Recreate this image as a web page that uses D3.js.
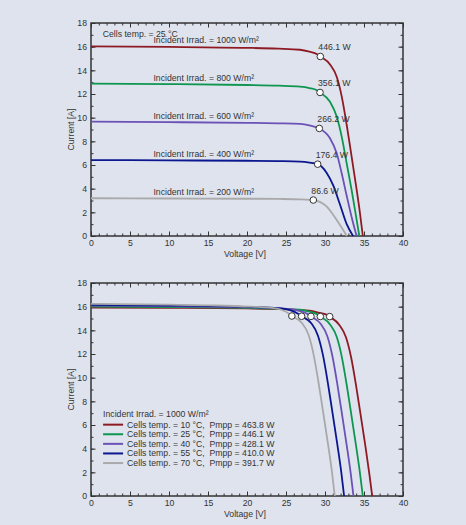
<!DOCTYPE html>
<html>
<head>
<meta charset="utf-8">
<script src="https://cdn.jsdelivr.net/npm/d3@7"></script>
<style>
  html, body { margin: 0; padding: 0; background: #dfe3ee; }
  svg { display: block; font-family: "Liberation Sans", Arial, sans-serif; }
</style>
</head>
<body>
<div id="chart"></div>
<script>
// ---- data ----
const irradLevels = [1000, 800, 600, 400, 200];
const irradPmpp = [446.1, 356.1, 266.2, 176.4, 86.6];
const irradMpp = [[29.4, 15.17], [29.36, 12.13], [29.27, 9.09], [29.06, 6.07], [28.5, 3.04]];
const irradCurves = [
    [[0, 16.02], [10, 15.98], [20, 15.9], [24, 15.83], [26.8, 15.74], [28, 15.58], [29, 15.36], [29.4, 15.17], [30.64, 14.5], [31.5, 13.45], [32.14, 11.8], [32.78, 9.4], [33.3, 7.2], [33.97, 4.3], [34.49, 1.9], [34.85, 0]],
    [[0, 12.88], [10, 12.84], [20, 12.76], [24, 12.7], [26.8, 12.62], [28, 12.5], [29, 12.3], [29.36, 12.13], [30.64, 11.35], [31.5, 10.09], [32.14, 8.4], [32.78, 6.14], [33.42, 3.85], [34.06, 1.35], [34.4, 0]],
    [[0, 9.66], [10, 9.62], [20, 9.56], [24, 9.52], [26.8, 9.47], [28, 9.35], [29.27, 9.09], [30.64, 8.26], [31.5, 6.99], [32.14, 5.3], [32.78, 3.4], [33.45, 1.5], [34.05, 0]],
    [[0, 6.42], [10, 6.39], [20, 6.36], [24, 6.33], [26.8, 6.28], [28, 6.2], [29.06, 6.07], [30.2, 5.35], [31.07, 4.25], [31.9, 2.7], [32.78, 1.0], [33.6, 0]],
    [[0, 3.19], [10, 3.17], [20, 3.15], [24, 3.13], [26.8, 3.1], [28.5, 3.04], [30.2, 2.5], [31.5, 1.35], [32.8, 0]]
];

const tempLevels = [10, 25, 40, 55, 70];
const tempPmpp = [463.8, 446.1, 428.1, 410.0, 391.7];
const tempMpp = [[30.6, 15.16], [29.4, 15.17], [28.2, 15.18], [27.0, 15.19], [25.75, 15.21]];
const tempCurves = [
    [[0, 15.92], [10, 15.9], [20, 15.85], [25.2, 15.77], [28, 15.66], [29.2, 15.5], [30.2, 15.33], [30.6, 15.16], [31.84, 14.45], [32.7, 13.4], [33.34, 11.75], [33.98, 9.35], [34.5, 7.15], [35.17, 4.25], [35.69, 1.85], [36.05, 0]],
    [[0, 16.0], [10, 15.97], [20, 15.9], [24, 15.83], [26.8, 15.74], [28, 15.58], [29, 15.36], [29.4, 15.17], [30.64, 14.5], [31.5, 13.45], [32.14, 11.8], [32.78, 9.4], [33.3, 7.2], [33.97, 4.3], [34.49, 1.9], [34.85, 0]],
    [[0, 16.08], [10, 16.04], [20, 15.95], [22.8, 15.9], [25.6, 15.8], [26.8, 15.63], [27.8, 15.37], [28.2, 15.18], [29.44, 14.55], [30.3, 13.5], [30.94, 11.85], [31.58, 9.45], [32.1, 7.25], [32.77, 4.35], [33.29, 1.95], [33.65, 0]],
    [[0, 16.16], [10, 16.1], [18, 16.02], [21.6, 15.95], [24.4, 15.85], [25.6, 15.68], [26.6, 15.38], [27.0, 15.19], [28.24, 14.6], [29.1, 13.55], [29.74, 11.9], [30.38, 9.5], [30.9, 7.3], [31.57, 4.4], [32.09, 2.0], [32.45, 0]],
    [[0, 16.24], [10, 16.17], [16, 16.1], [20.4, 16.0], [23.2, 15.9], [24.4, 15.74], [25.4, 15.4], [25.75, 15.21], [27.04, 14.62], [27.9, 13.6], [28.54, 11.95], [29.18, 9.55], [29.7, 7.35], [30.37, 4.45], [30.89, 2.05], [31.25, 0]]
];

const xTicks = [0, 5, 10, 15, 20, 25, 30, 35, 40],
    yTicks = [0, 2, 4, 6, 8, 10, 12, 14, 16, 18];

// ---- layout ----
let width = 466,
    height = 525,
    plotLeft = 91,
    plotRight = 403,
    panelTops = [23, 283],
    plotHeight = 213,
    colors = ['#8e1b24', '#0e9650', '#6a52b6', '#0a178e', '#a9a9a9'],
    font = '8.7px',
    textColor = '#333';

let svg = d3.select('#chart').append('svg')
    .attr('width', width)
    .attr('height', height);

svg.append('rect')
    .attr('width', width)
    .attr('height', height)
    .attr('fill', '#dfe3ee');

let x = d3.scaleLinear().domain([0, 40]).range([plotLeft, plotRight]);

function drawPanel(panelTop, curves, mpp) {
    const y = d3.scaleLinear().domain([0, 18]).range([panelTop + plotHeight, panelTop]);
    const g = svg.append('g');

    // minor + major ticks, pointing inward on all four sides
    const axes = [
        [d3.axisBottom(x), `translate(0, ${panelTop + plotHeight})`, d3.range(0, 41, 1), xTicks, true],
        [d3.axisTop(x), `translate(0, ${panelTop})`, d3.range(0, 41, 1), xTicks, false],
        [d3.axisLeft(y), `translate(${plotLeft}, 0)`, d3.range(0, 19, 1), yTicks, true],
        [d3.axisRight(y), `translate(${plotRight}, 0)`, d3.range(0, 19, 1), yTicks, false]
    ];
    axes.forEach(([axis, tr, minor, major, withLabels]) => {
        g.append('g')
            .attr('transform', tr)
            .call(axis.tickValues(minor).tickSize(-2.5).tickFormat(''))
            .call(a => a.select('.domain').remove())
            .selectAll('line').attr('stroke', textColor);

        g.append('g')
            .attr('transform', tr)
            .call(axis.tickValues(major).tickSize(-4.5).tickPadding(4)
                .tickFormat(withLabels ? d3.format('d') : ''))
            .call(a => a.select('.domain').remove())
            .call(a => a.selectAll('line').attr('stroke', textColor))
            .call(a => a.selectAll('text')
                .attr('fill', textColor)
                .style('font-size', font));
    });

    g.append('rect')
        .attr('x', plotLeft)
        .attr('y', panelTop)
        .attr('width', plotRight - plotLeft)
        .attr('height', plotHeight)
        .attr('fill', 'none')
        .attr('stroke', textColor)
        .attr('stroke-width', 1.5);

    g.append('text')
        .attr('x', (plotLeft + plotRight) / 2 - 2)
        .attr('y', panelTop + plotHeight + 21)
        .attr('text-anchor', 'middle')
        .attr('fill', textColor)
        .style('font-size', font)
        .text('Voltage [V]');

    g.append('text')
        .attr('transform', `translate(74, ${panelTop + plotHeight / 2}) rotate(-90)`)
        .attr('text-anchor', 'middle')
        .attr('fill', textColor)
        .style('font-size', font)
        .text('Current [A]');

    const line = d3.line()
        .x(d => x(d[0]))
        .y(d => y(d[1]))
        .curve(d3.curveMonotoneX);

    g.append('g')
        .selectAll('path')
        .data(curves)
        .join('path')
        .attr('d', line)
        .attr('fill', 'none')
        .attr('stroke', (d, i) => colors[i])
        .attr('stroke-width', 1.8);

    g.append('g')
        .selectAll('circle')
        .data(mpp)
        .join('circle')
        .attr('cx', d => x(d[0]))
        .attr('cy', d => y(d[1]))
        .attr('r', 3.3)
        .attr('fill', 'white')
        .attr('stroke', '#333')
        .attr('stroke-width', 1);

    return {g, y};
}

// ---- top panel: irradiance ----
let topPanel = drawPanel(panelTops[0], irradCurves, irradMpp);

topPanel.g.append('text')
    .attr('x', x(1.5))
    .attr('y', topPanel.y(16.8))
    .attr('fill', textColor)
    .style('font-size', font)
    .text('Cells temp. = 25 °C');

topPanel.g.append('g')
    .selectAll('text')
    .data(irradLevels)
    .join('text')
    .attr('x', x(8))
    .attr('y', (d, i) => topPanel.y(irradCurves[i][0][1]) - 3)
    .attr('fill', textColor)
    .style('font-size', font)
    .text(d => `Incident Irrad. = ${d} W/m²`);

topPanel.g.append('g')
    .selectAll('text')
    .data(irradPmpp)
    .join('text')
    .attr('x', (d, i) => x(irradMpp[i][0]) - 2)
    .attr('y', (d, i) => topPanel.y(irradMpp[i][1]) - 6)
    .attr('fill', textColor)
    .style('font-size', font)
    .text(d => `${d.toFixed(1)} W`);

// ---- bottom panel: temperature ----
let bottomPanel = drawPanel(panelTops[1], tempCurves, tempMpp);

let legend = bottomPanel.g.append('g')
    .attr('transform', `translate(${x(1.55)}, ${bottomPanel.y(6.68)})`);

legend.append('text')
    .attr('x', 0)
    .attr('y', 0)
    .attr('fill', textColor)
    .style('font-size', font)
    .text('Incident Irrad. = 1000 W/m²');

let rows = legend.selectAll('.row')
    .data(tempLevels)
    .join('g')
    .attr('class', 'row')
    .attr('transform', (d, i) => `translate(0, ${7.7 + i * 9.6})`);

rows.append('line')
    .attr('x1', 0)
    .attr('x2', 20)
    .attr('y1', 0)
    .attr('y2', 0)
    .attr('stroke', (d, i) => colors[i])
    .attr('stroke-width', 2);

rows.append('text')
    .attr('x', 24)
    .attr('y', 3)
    .attr('fill', textColor)
    .style('font-size', font)
    .style('white-space', 'pre')
    .text((d, i) => `Cells temp. = ${d} °C,  Pmpp = ${tempPmpp[i].toFixed(1)} W`);
</script>
</body>
</html>
